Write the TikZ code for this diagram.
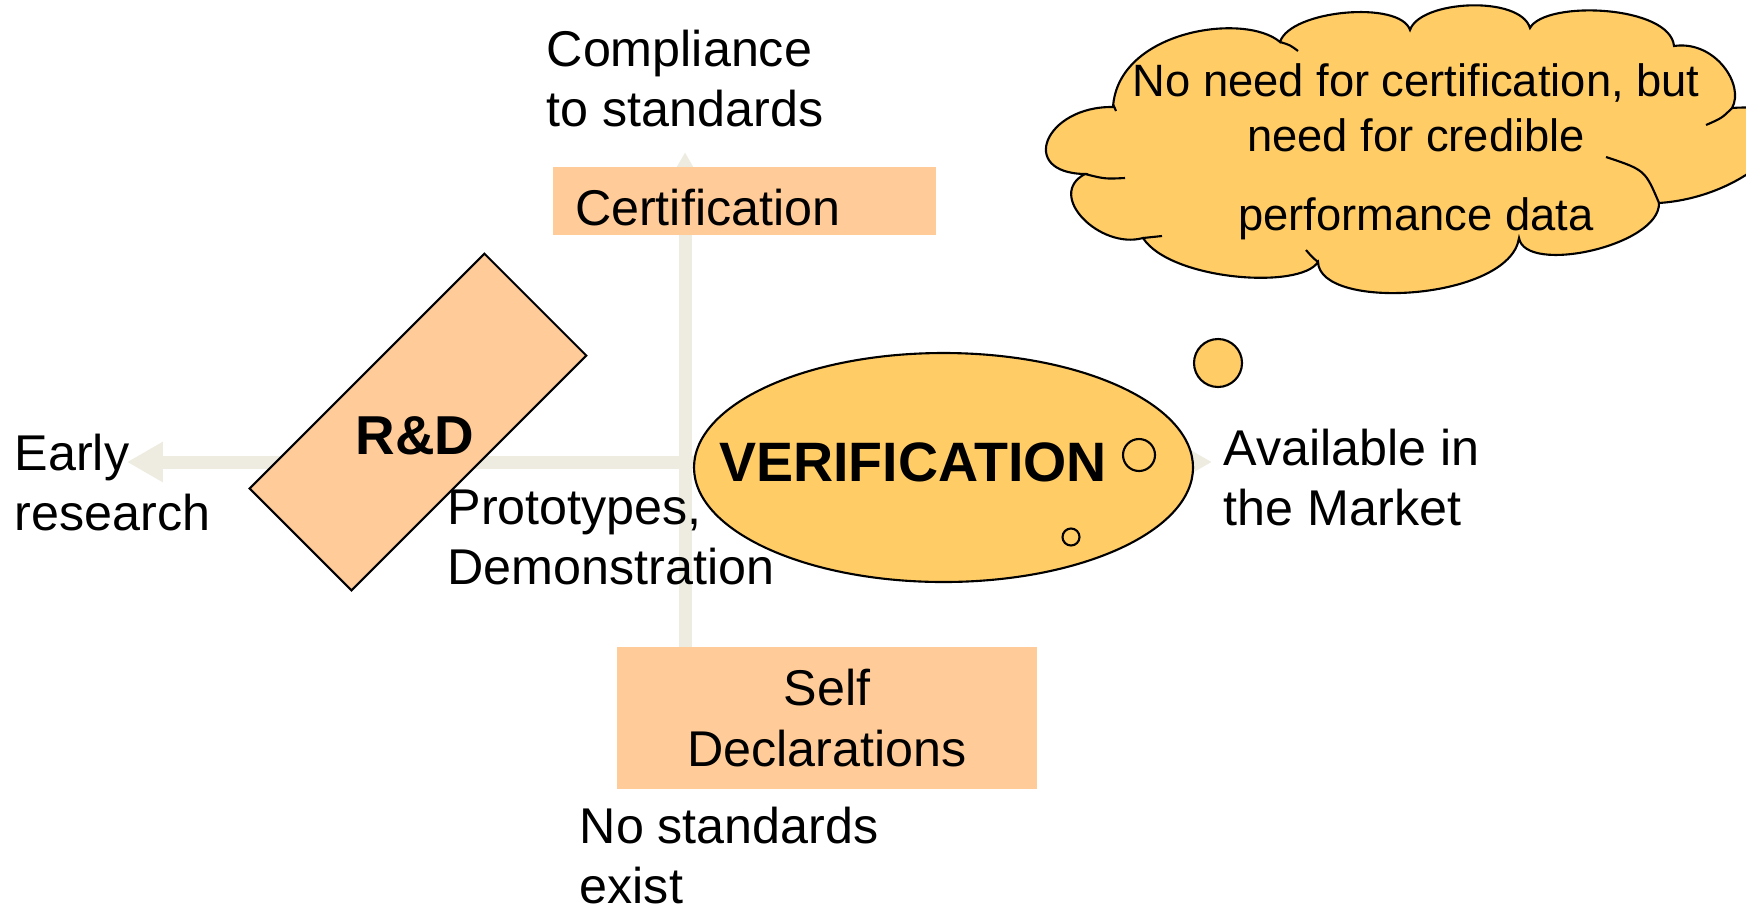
\documentclass[tikz,border=0pt]{standalone}
\usepackage{fontspec}
\setmainfont{Liberation Sans}
\usepackage{tikz}
\usetikzlibrary{arrows.meta,shapes.geometric,positioning}
\definecolor{boxOrange}{RGB}{255,204,153}
\definecolor{bubbleGold}{RGB}{255,204,102}
\definecolor{axisGrey}{RGB}{238,236,225}
\tikzstyle{flow}  =[draw=axisGrey, line width=3.7pt,
                    -{Triangle[width=10.8pt,length=10.2pt]}]
\tikzstyle{stage} =[rectangle, fill=boxOrange, inner sep=0pt,
                    font=\fontsize{14.3}{17.2}\selectfont]
\tikzstyle{txt}   =[inner sep=0pt, align=left, anchor=north west,
                    font=\fontsize{14.3}{17.2}\selectfont]
\tikzstyle{bubble}=[circle, draw, fill=bubbleGold, line width=0.6pt,
                    inner sep=0pt]
\tikzstyle{puff}  =[draw, line width=0.6pt]

\begin{document}
\begin{tikzpicture}[x=0.1mm, y=-0.1mm]
\clip (0,0) rectangle (1746,908);
%%%%%%%%%%%%%%%%%%%%%%%%%%%%%%%%%%%%%%%%%%%%%%%%
%%%%%%%%%%            Axes            %%%%%%%%%%
%%%%%%%%%%%%%%%%%%%%%%%%%%%%%%%%%%%%%%%%%%%%%%%%
\coordinate (hub)  at (685,462);
\coordinate (wtip) at (127,462);
\coordinate (etip) at (1212,462);
\coordinate (ntip) at (685,152);
\coordinate (sbot) at (685,647);

\draw [flow] (hub) -- (wtip);
\draw [flow] (hub) -- (etip);
\draw [flow] (sbot) -- (ntip);

%%%%%%%%%%%%%%%%%%%%%%%%%%%%%%%%%%%%%%%%%%%%%%%%
%%%%%%%%%%           Stages           %%%%%%%%%%
%%%%%%%%%%%%%%%%%%%%%%%%%%%%%%%%%%%%%%%%%%%%%%%%
\node (cert) [stage, text width=33.9mm, inner xsep=2.2mm,
      text height=14.2pt, text depth=0pt,
      minimum height=6.8mm, align=left] at (744.5,201) {Certification};
\node (self) [stage, minimum width=42mm, minimum height=14.2mm,
      align=center] at (827,718) {Self\\Declarations};

\node (rnd) [rectangle, draw, fill=boxOrange, line width=0.6pt,
      minimum width=33.2mm, minimum height=14.4mm, rotate=45] at (418,422) {};
\node (rndtxt) [font=\bfseries\fontsize{15.6}{18}\selectfont,
      inner sep=0pt] at (415,436) {R\&D};

%%%%%%%%%%%%%%%%%%%%%%%%%%%%%%%%%%%%%%%%%%%%%%%%
%%%%%%%%%%      Verification bubble   %%%%%%%%%%
%%%%%%%%%%%%%%%%%%%%%%%%%%%%%%%%%%%%%%%%%%%%%%%%
\node (verif) [ellipse, draw, fill=bubbleGold, line width=0.6pt,
      minimum width=49.9mm, minimum height=22.9mm, inner sep=0pt] at (943.5,467.5) {};
\node (veriftxt) [font=\bfseries\fontsize{15.8}{18}\selectfont,
      inner sep=0pt] at (913,462) {VERIFICATION};

\node (b1) [bubble, minimum size=1.7mm] at (1071,537) {};
\node (b2) [bubble, minimum size=3.2mm] at (1139,455) {};
\node (b3) [bubble, minimum size=4.8mm] at (1218,363) {};

%%%%%%%%%%%%%%%%%%%%%%%%%%%%%%%%%%%%%%%%%%%%%%%%
%%%%%%%%%%        Thought cloud       %%%%%%%%%%
%%%%%%%%%%%%%%%%%%%%%%%%%%%%%%%%%%%%%%%%%%%%%%%%
\path [puff, fill=bubbleGold] (1113,107)
  .. controls (1118,30)  and (1245,12)  .. (1280,42)
  .. controls (1290,10)  and (1400,0)   .. (1410,30)
  .. controls (1420,0)   and (1520,-5)  .. (1530,28)
  .. controls (1545,0)   and (1670,5)   .. (1674,46)
  .. controls (1715,40)  and (1745,85)  .. (1732,108)
  .. controls (1838,100) and (1764,196) .. (1659,203)
  .. controls (1660,246) and (1525,275) .. (1519,238)
  .. controls (1510,300) and (1320,312) .. (1318,262)
  .. controls (1300,290) and (1170,280) .. (1143,238)
  .. controls (1100,250) and (1045,195) .. (1085,174)
  .. controls (1017,173) and (1045,106) .. cycle;
% hidden puff edges
\draw [puff] (1113,107) .. controls (1113,104) .. (1116,111);
\draw [puff] (1280,42)  .. controls (1290,45)  .. (1298,51);
\draw [puff] (1732,108) .. controls (1722,118) .. (1706,125);
\draw [puff] (1606,157) .. controls (1645,170) .. (1659,203);
\draw [puff] (1318,262) .. controls (1312,257) .. (1306,250);
\draw [puff] (1143,238) .. controls (1152,237) .. (1162,236);
\draw [puff] (1085,174) .. controls (1105,179) .. (1125,178);

\node (cloudtxt) [font=\fontsize{12.9}{15.6}\selectfont,
      align=center, inner sep=0pt, anchor=north] at (1416,63)
      {No need for certification, but\\need for credible\\[6.9pt]performance data};

%%%%%%%%%%%%%%%%%%%%%%%%%%%%%%%%%%%%%%%%%%%%%%%%
%%%%%%%%%%           Labels           %%%%%%%%%%
%%%%%%%%%%%%%%%%%%%%%%%%%%%%%%%%%%%%%%%%%%%%%%%%
\node (comp)  [txt] at (546,29)  {Compliance\\to standards};
\node (early) [txt] at (14,433)  {Early\\research};
\node (proto) [txt] at (447,489) {Prototypes,\\Demonstration};
\node (avail) [txt] at (1223,428) {Available in\\the Market};
\node (nostd) [txt] at (579,806) {No standards\\exist};

\end{tikzpicture}
\end{document}
